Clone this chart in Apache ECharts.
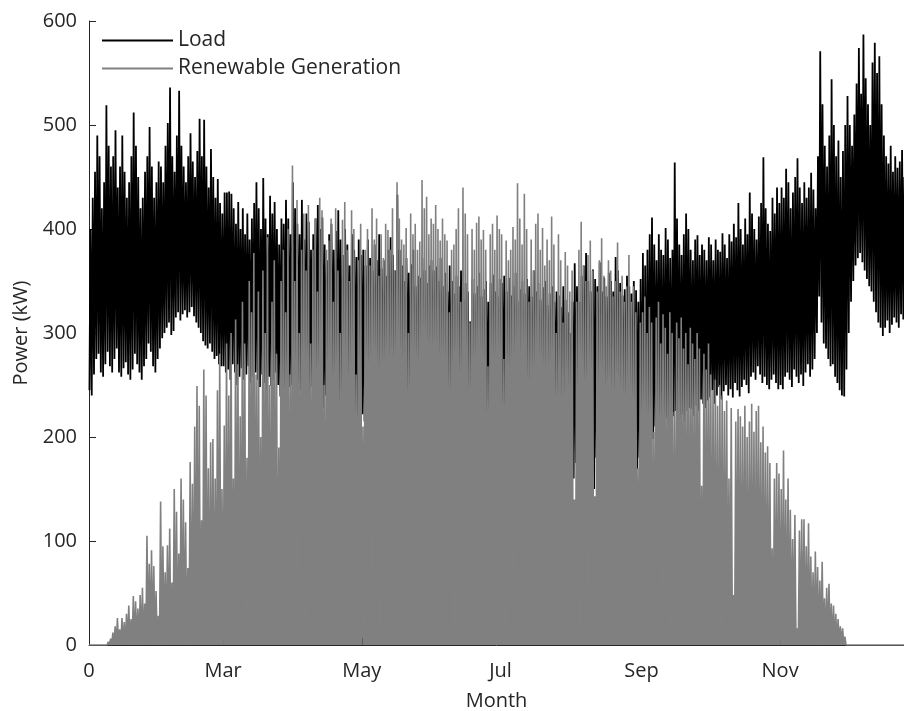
<!DOCTYPE html>
<html>
<head>
<meta charset="utf-8">
<script src="https://cdn.jsdelivr.net/npm/echarts@6/dist/echarts.min.js"></script>
<style>
  html, body { margin: 0; padding: 0; background: #fff; }
  #chart { width: 904px; height: 711px; }
</style>
</head>
<body>
<div id="chart"></div>
<script>
// day-of-year positions of the month ticks and their labels
const tickDays = [0, 59, 120, 181, 243, 304]
const tickLabels = ['0', 'Mar', 'May', 'Jul', 'Sep', 'Nov']

// daily minimum of the load (kW), Jan .. Dec
const loadLow = [
  245,240,260,275,280,262,258,270,282,268, 262,275,285,262,258,266,272,260,255,265, 280,270,262,255,268,275,290,282,268,262, 275,
  285,295,300,305,310,298,302,315,320,312, 318,322,315,320,325,316,310,305,300,292, 288,285,290,282,275,278,270,268,
  268,262,265,255,270,262,250,258,266,255, 260,268,252,258,262,255,248,260,252,245, 258,249,255,262,250,239,255,245,252,248, 250,
  248,240,252,245,238,250,243,236,248,240, 232,245,238,228,240,235,225,238,230,222, 235,228,215,230,224,200,226,218,208,225,
  222,215,230,218,225,212,205,225,215,230, 220,210,228,215,222,208,226,218,212,224, 230,215,220,205,218,225,210,222,216,212, 220,
  215,208,220,212,205,218,210,222,206,214, 208,218,200,212,205,210,180,208,215,200, 212,205,218,208,186,210,202,215,205,210,
  205,212,200,215,208,198,210,220,205,212, 200,215,243,210,205,218,200,212,205,222, 236,208,215,200,212,205,198,210,200,195, 190,
  185,160,175,195,205,190,200,185,195,175, 150,180,195,200,217,205,210,195,200,190, 205,185,201,195,190,200,185,180,175,169, 180,
  180,174,190,200,205,198,210,215,205,212, 200,218,210,215,220,225,212,218,222,215, 225,228,227,220,230,225,236,232,228,235,
  238,245,232,240,248,236,244,250,240,246, 238,252,245,239,248,255,250,242,258,262, 255,268,260,252,258,250,246,255,260,252, 246,
  250,246,258,262,255,248,265,258,252,260, 249,262,270,258,265,275,300,335,310,290, 285,275,268,270,258,252,245,240,239,265,
  300,330,350,365,372,377,368,360,352,345, 340,330,320,310,305,297,305,312,300,308, 315,310,305,318,313,310,305,315,308,312, 310
]

// daily maximum of the load (kW), Jan .. Dec
const loadHigh = [
  400,430,455,490,470,420,445,519,480,460, 470,495,440,460,490,455,430,445,470,512, 480,450,420,430,455,470,498,460,430,445, 465,
  460,445,480,502,536,470,455,490,533,480, 460,445,470,492,465,450,475,506,470,505, 460,440,477,450,430,448,425,415,
  435,435,436,434,420,405,426,400,420,395, 415,390,410,425,445,420,400,449,410,395, 432,415,426,400,385,410,405,428,410,395, 445,
  420,405,395,428,390,415,407,380,395,410, 423,400,411,385,370,395,405,380,398,418, 390,375,400,385,365,395,380,373,390,375,
  380,365,390,372,360,385,370,395,362,370, 355,380,392,375,360,433,380,365,350,372, 358,366,380,345,355,353,372,360,348,365, 370,
  360,364,350,372,345,358,340,365,350,338, 355,345,360,332,348,340,311,352,338,345, 358,335,342,350,330,348,356,340,335,352,
  348,355,340,353,336,345,358,330,342,350, 338,352,345,335,360,340,348,332,344,350, 327,338,345,330,340,336,325,345,332,320, 300,
  330,367,345,330,355,365,377,350,340,361, 352,345,368,340,353,335,358,350,340,373, 360,348,336,342,355,345,338,350,341,330, 352,
  377,365,380,395,411,385,370,395,380,375, 401,390,372,380,464,410,385,375,395,415, 400,380,370,390,394,375,385,380,370,392,
  385,370,390,380,378,396,385,372,395,388, 405,392,425,400,385,410,395,435,415,400, 390,412,425,469,420,405,398,430,415,440, 425,
  440,430,458,445,420,435,450,468,440,425, 445,430,440,454,438,420,470,571,520,480, 460,490,544,500,470,485,450,475,500,528,
  500,480,510,540,574,530,587,545,520,500, 560,579,550,566,520,490,470,463,480,455, 470,459,465,476,450,460,470,455,465,450, 460
]

// daily peak of the renewable generation (kW), Jan .. Dec (zero at night)
const renewPeak = [
  0,0,0,0,0,0,0,0,3,6, 12,18,26,15,26,22,30,38,25,47, 42,35,48,55,40,105,78,91,76,52, 28,
  138,95,70,96,112,60,150,128,88,160, 140,118,74,176,155,210,249,230,120,265, 240,170,195,198,160,245,280,150,
  211,290,240,300,160,313,270,220,330,290, 180,350,320,377,260,340,200,360,300,392, 250,330,370,280,190,350,380,320,400,260, 461,
  350,428,300,380,415,360,423,290,380,410, 340,430,418,250,380,389,410,330,420,360, 300,409,426,380,350,418,400,260,370,405,
  210,380,400,365,420,390,410,355,395,372, 405,399,380,420,360,445,410,390,385,401, 300,415,395,405,380,388,447,420,431,395, 410,
  405,423,400,389,410,395,389,320,380,385, 400,420,330,440,415,395,310,400,380,406, 412,390,399,380,268,395,405,380,413,400,
  395,275,389,370,380,402,390,444,410,385, 434,400,330,390,360,405,415,380,401,365, 390,370,412,385,300,395,370,310,378,365, 340,
  360,140,330,380,407,365,350,375,389,360, 143,340,370,391,355,345,370,360,335,350, 387,340,355,330,345,375,330,345,320,170, 310,
  320,335,300,325,310,205,315,330,290,318, 305,280,320,300,224,310,295,315,285,300, 270,305,290,275,300,285,153,280,265,290,
  260,245,255,230,250,240,225,235,160,228, 48,215,227,220,210,230,200,215,232,205, 225,230,195,210,185,191,175,93,160,175, 165,
  150,187,140,160,130,102,125,16,110,121, 121,95,117,85,70,90,75,62,80,45, 55,59,40,38,30,25,18,16,8,0,
  0,0,0,0,0,0,0,0,0,0, 0,0,0,0,0,0,0,0,0,0, 0,0,0,0,0,0,0,0,0,0, 0
]

const loadPts = []
for (let d = 0; d < loadLow.length; d++) {
  loadPts.push([d + 0.2, loadLow[d]], [d + 0.65, loadHigh[d]])
}
const renewPts = []
for (let d = 0; d < renewPeak.length; d++) {
  renewPts.push([d, 0], [d + 0.5, renewPeak[d]])
}
renewPts.push([renewPeak.length, 0])

const textColor = '#262626'
const fontFamily = '"Open Sans", sans-serif'

const chart = echarts.init(document.getElementById('chart'), null, { renderer: 'canvas' })
chart.setOption({
  animation: false,
  backgroundColor: '#fff',
  textStyle: { fontFamily: fontFamily },
  grid: { left: 89, right: 0, top: 21, bottom: 66, outerBoundsMode: 'none', containLabel: false },
  legend: {
    orient: 'vertical',
    left: 102,
    top: 30,
    itemGap: 7,
    itemWidth: 71,
    itemHeight: 2,
    icon: 'rect',
    padding: 0,
    textStyle: { fontSize: 21, color: textColor, fontFamily: fontFamily },
    data: ['Load', 'Renewable Generation']
  },
  xAxis: {
    type: 'value',
    min: 0,
    max: 358.5,
    z: 3,
    name: 'Month',
    nameLocation: 'middle',
    nameGap: 46,
    nameTextStyle: { fontSize: 20, color: textColor },
    axisLine: { show: true, lineStyle: { color: textColor, width: 1 } },
    axisTick: { show: true, inside: true, length: 7, customValues: tickDays, lineStyle: { color: textColor } },
    axisLabel: {
      customValues: tickDays,
      margin: 16,
      fontSize: 20,
      color: textColor,
      formatter: v => tickLabels[tickDays.indexOf(v)]
    },
    splitLine: { show: false }
  },
  yAxis: {
    type: 'value',
    min: 0,
    max: 600,
    interval: 100,
    z: 3,
    name: 'Power (kW)',
    nameLocation: 'middle',
    nameGap: 58,
    nameTextStyle: { fontSize: 20, color: textColor },
    axisLine: { show: true, lineStyle: { color: textColor, width: 1 } },
    axisTick: { show: true, inside: true, length: 7, lineStyle: { color: textColor } },
    axisLabel: { margin: 12, fontSize: 20, color: textColor },
    splitLine: { show: false }
  },
  series: [
    {
      name: 'Load',
      type: 'line',
      data: loadPts,
      showSymbol: false,
      symbol: 'none',
      color: '#000000',
      lineStyle: { color: '#000000', width: 1.8 }
    },
    {
      name: 'Renewable Generation',
      type: 'line',
      data: renewPts,
      showSymbol: false,
      symbol: 'none',
      color: '#808080',
      lineStyle: { color: '#808080', width: 1.6 },
      areaStyle: { color: '#808080', opacity: 1 }
    }
  ]
})
</script>
</body>
</html>
